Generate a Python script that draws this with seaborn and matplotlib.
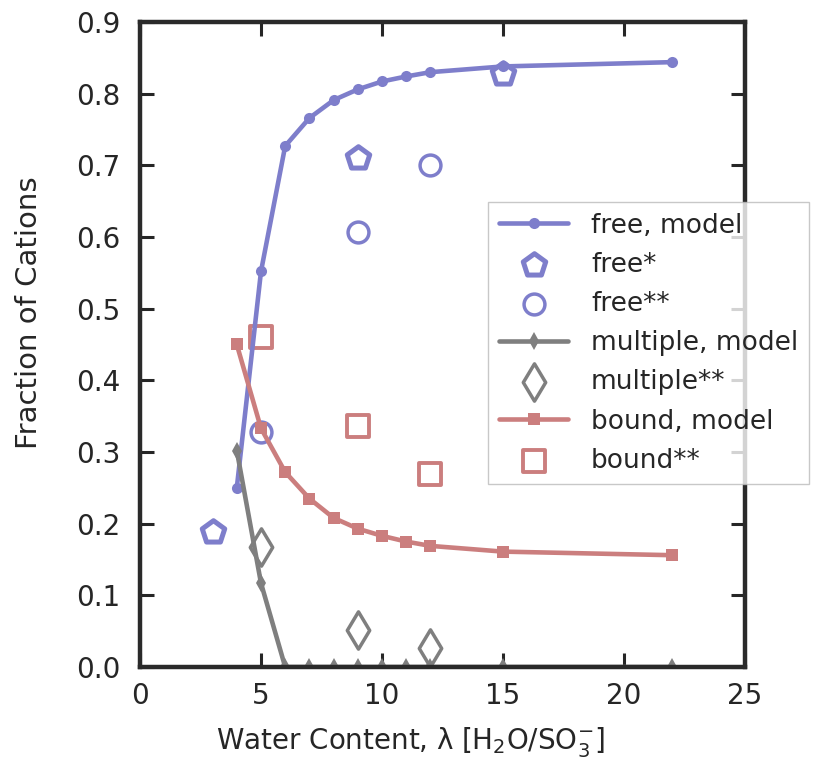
import matplotlib
matplotlib.use("Agg")
import matplotlib.pyplot as plt
import seaborn as sns

# Water content values for the model curves
lam_model = [4, 5, 6, 7, 8, 9, 10, 11, 12, 15, 22]
free_model = [0.250, 0.552, 0.727, 0.766, 0.791, 0.806, 0.817, 0.824, 0.830, 0.838, 0.844]
multiple_model = [0.302, 0.117, 0.0, 0.0, 0.0, 0.0, 0.0, 0.0, 0.0, 0.0, 0.0]
bound_model = [0.450, 0.333, 0.272, 0.235, 0.208, 0.193, 0.183, 0.175, 0.169, 0.161, 0.156]

# Measured fractions
lam_free_star = [3, 9, 15]
free_star = [0.188, 0.710, 0.828]
lam_exp = [5, 9, 12]
free_exp = [0.328, 0.607, 0.701]
multiple_exp = [0.168, 0.052, 0.027]
bound_exp = [0.460, 0.336, 0.270]

x_ticks = [0, 5, 10, 15, 20, 25]
y_ticks = [0.0, 0.1, 0.2, 0.3, 0.4, 0.5, 0.6, 0.7, 0.8, 0.9]

BLUE = "#7e7ecb"
GRAY = "#7f7f7f"
RED = "#cb7e7e"
DARK = "#262626"

sns.set_style("ticks")
plt.rcParams["font.family"] = ["DejaVu Sans"]
plt.rcParams.update({
    "xtick.direction": "in",
    "ytick.direction": "in",
    "xtick.top": True,
    "ytick.right": True,
    "axes.edgecolor": "#2a2a2a",
    "axes.linewidth": 3.2,
    "xtick.major.width": 2.2,
    "ytick.major.width": 2.2,
    "xtick.major.size": 10,
    "ytick.major.size": 10,
    "xtick.color": DARK,
    "ytick.color": DARK,
    "text.color": DARK,
    "axes.labelcolor": DARK,
})

fig = plt.figure(figsize=(8.13, 7.62), dpi=100)
ax = fig.add_axes([140 / 813, 1 - 667 / 762, (745 - 140) / 813, (667 - 22) / 762])

lw = 3.3
sns.lineplot(x=lam_model, y=free_model, ax=ax, color=BLUE, lw=lw, marker="o",
             markersize=8, markeredgewidth=0, label="free, model")
sns.scatterplot(x=lam_free_star, y=free_star, ax=ax, marker="p", s=17 ** 2,
                facecolor="white", edgecolor=BLUE, linewidth=3.6, label="free*")
sns.scatterplot(x=lam_exp, y=free_exp, ax=ax, marker="o", s=15 ** 2,
                facecolor="white", edgecolor=BLUE, linewidth=2.5, label="free**")
sns.lineplot(x=lam_model, y=multiple_model, ax=ax, color=GRAY, lw=lw, marker="d",
             markersize=9, markeredgewidth=0, label="multiple, model")
sns.scatterplot(x=lam_exp, y=multiple_exp, ax=ax, marker="d", s=19 ** 2,
                facecolor="white", edgecolor=GRAY, linewidth=2.5, label="multiple**")
sns.lineplot(x=lam_model, y=bound_model, ax=ax, color=RED, lw=lw, marker="s",
             markersize=8, markeredgewidth=0, label="bound, model")
sns.scatterplot(x=lam_exp, y=bound_exp, ax=ax, marker="s", s=16 ** 2,
                facecolor="white", edgecolor=RED, linewidth=2.8, label="bound**")

ax.set_xlim(0, 25)
ax.set_ylim(0, 0.9)
ax.set_xticks(x_ticks)
ax.set_yticks(y_ticks)
ax.set_yticklabels([f"{v:.1f}" for v in y_ticks])
ax.tick_params(axis="both", labelsize=20)
ax.tick_params(axis="x", pad=11)
ax.tick_params(axis="y", pad=14)
for s in ax.spines.values():
    s.set_visible(True)

ax.set_xlabel(r"Water Content, λ [H$_2$O/SO$_3^{\mathregular{-}}$]", fontsize=20)
ax.set_ylabel("Fraction of Cations", fontsize=21)
ax.xaxis.set_label_coords(0.446, -0.090)
ax.yaxis.set_label_coords(-0.160, 0.55)

leg = ax.legend(loc="upper left", bbox_to_anchor=(488 / 813, 1 - 202 / 762),
                bbox_transform=fig.transFigure, fontsize=19, frameon=True,
                fancybox=False, handlelength=2.65, handletextpad=0.85,
                labelspacing=0.5, borderpad=0.4, borderaxespad=0.0,
                markerscale=1.0)
leg.get_frame().set_edgecolor("#bbbbbb")
leg.get_frame().set_linewidth(1.0)
leg.set_zorder(10)

fig.savefig("out.png", dpi=100)
